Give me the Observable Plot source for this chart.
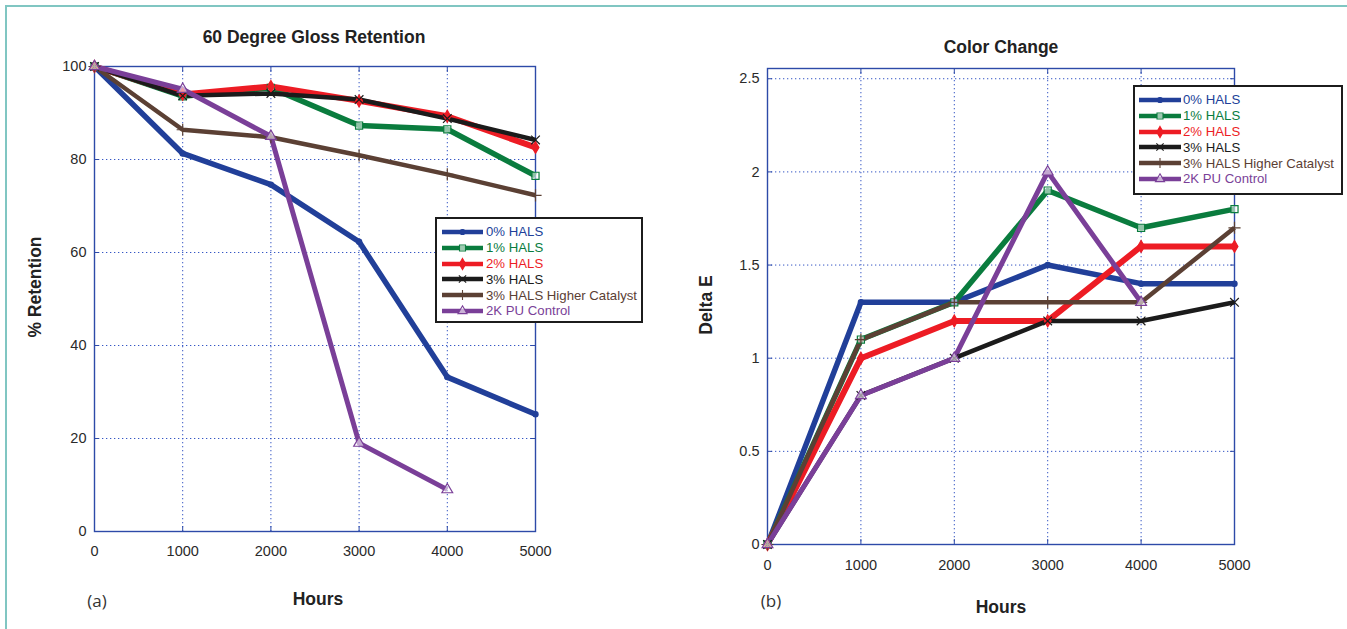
<!DOCTYPE html>
<html><head><meta charset="utf-8">
<script src="https://cdn.jsdelivr.net/npm/d3@7"></script>
<script src="https://cdn.jsdelivr.net/npm/@observablehq/plot@0.6"></script>
<style>
body{margin:0;background:#fff;}
#fig{position:relative;width:1347px;height:629px;overflow:hidden;font-family:"Liberation Sans",Arial,sans-serif;background:#fff;}
#border{position:absolute;left:5px;top:5px;width:1400px;height:700px;border-left:2px solid #80c6c2;border-top:2px solid #80c6c2;box-sizing:border-box;}
.abs{position:absolute;white-space:nowrap;line-height:1;}
.plot{position:absolute;top:0;}
.legend{position:absolute;border:2px solid #1c1c1c;background:#fff;box-sizing:border-box;}
.row{position:absolute;display:flex;align-items:center;font-size:13.2px;line-height:1;white-space:nowrap;}
</style></head>
<body>
<div id="fig"><div id="border"></div></div>
<script>
// ---------- data ----------
const hours = [0, 1000, 2000, 3000, 4000, 5000];
const seriesNames = ["0% HALS", "1% HALS", "2% HALS", "3% HALS", "3% HALS Higher Catalyst", "2K PU Control"];
const seriesColors = ["#213f99", "#0a7c3e", "#ed1c24", "#1b1b1b", "#5b4034", "#7a3f98"];
const seriesSymbols = ["circle", "square", "diamond", "times", "plus", "triangle"];

// 60 Degree Gloss Retention (%)
const gloss0 = [100, 81.3, 74.6, 62.3, 33.2, 25.2];
const gloss1 = [100, 93.6, 95.4, 87.3, 86.5, 76.5];
const gloss2 = [100, 94.0, 95.7, 92.6, 89.3, 82.6];
const gloss3 = [100, 93.7, 94.2, 92.9, 88.8, 84.2];
const gloss3c = [100, 86.4, 84.8, 80.9, 76.8, 72.3];
const glossPU = [100, 95.1, 85.0, 19.0, 9.0, null];
const glossTicks = [0, 20, 40, 60, 80, 100];

// Color Change (Delta E)
const color0 = [0, 1.3, 1.3, 1.5, 1.4, 1.4];
const color1 = [0, 1.1, 1.3, 1.9, 1.7, 1.8];
const color2 = [0, 1.0, 1.2, 1.2, 1.6, 1.6];
const color3 = [0, 0.8, 1.0, 1.2, 1.2, 1.3];
const color3c = [0, 1.1, 1.3, 1.3, 1.3, 1.7];
const colorPU = [0, 0.8, 1.0, 2.0, 1.3, null];
const deltaTicks = [0, 0.5, 1, 1.5, 2, 2.5];

// ---------- styles ----------
const gridColor = "#3556c4";
const frameColor = "#2d4aa8";
const lineWidths = [5.5, 5.5, 6, 4.5, 4.5, 5];

function tidy(valueArrays) {
  const rows = [];
  valueArrays.forEach((vals, si) => {
    vals.forEach((v, i) => {
      if (v != null) rows.push({series: seriesNames[si], hours: hours[i], value: v});
    });
  });
  return rows;
}

function makeChart({width, height, marginLeft, marginRight, marginTop, marginBottom, yDomain, yTicks, rows, xPad}) {
  const marks = [
    Plot.gridX(hours, {stroke: gridColor, strokeOpacity: 1, strokeWidth: 1, strokeDasharray: "1.3,2.7"}),
    Plot.gridY(yTicks, {stroke: gridColor, strokeOpacity: 1, strokeWidth: 1, strokeDasharray: "1.3,2.7"}),
    Plot.axisX({ticks: hours, anchor: "bottom", tickSize: 0, tickPadding: xPad, tickFormat: d => String(d), fontSize: 14.5, fill: "#2a2a2a", label: null}),
    Plot.axisY({ticks: yTicks, anchor: "left", tickSize: 0, tickPadding: 8, tickFormat: d => String(d), fontSize: 14.5, fill: "#2a2a2a", label: null}),
    Plot.axisX({ticks: hours, anchor: "bottom", tickSize: -5, tickFormat: () => "", stroke: frameColor, label: null}),
    Plot.axisX({ticks: hours, anchor: "top", tickSize: -5, tickFormat: () => "", stroke: frameColor, label: null}),
    Plot.axisY({ticks: yTicks, anchor: "left", tickSize: -5, tickFormat: () => "", stroke: frameColor, label: null}),
    Plot.axisY({ticks: yTicks, anchor: "right", tickSize: -5, tickFormat: () => "", stroke: frameColor, label: null}),
    Plot.frame({stroke: frameColor, strokeWidth: 1.4})
  ];
  seriesNames.forEach((name, si) => {
    const d = rows.filter(r => r.series === name);
    marks.push(Plot.line(d, {x: "hours", y: "value", stroke: seriesColors[si], strokeWidth: lineWidths[si], strokeLinejoin: "round", strokeLinecap: "butt"}));
  });
  seriesNames.forEach((name, si) => {
    const d = rows.filter(r => r.series === name);
    const sym = seriesSymbols[si];
    const filled = sym === "circle" || sym === "diamond";
    marks.push(Plot.dot(d, {
      x: "hours", y: "value", symbol: sym,
      r: sym === "circle" ? 2.6 : sym === "diamond" ? 3.6 : 4,
      fill: filled ? seriesColors[si] : (sym === "square" || sym === "triangle" ? "#ffffff" : "none"),
      fillOpacity: filled ? 1 : 0.55,
      stroke: seriesColors[si], strokeWidth: 1.2
    }));
  });
  return Plot.plot({
    width, height, marginLeft, marginRight, marginTop, marginBottom,
    x: {domain: [0, 5000], label: null},
    y: {domain: yDomain, label: null},
    style: {background: "transparent", fontFamily: "'Liberation Sans', Arial, sans-serif", fontSize: "14.5px"},
    marks
  });
}

const fig = document.getElementById("fig");

const left = makeChart({width: 680, height: 629, marginLeft: 94, marginRight: 145, marginTop: 66, marginBottom: 98,
  yDomain: [0, 100], yTicks: glossTicks, rows: tidy([gloss0, gloss1, gloss2, gloss3, gloss3c, glossPU]), xPad: 14});
left.classList.add("plot"); left.style.left = "0px";
fig.appendChild(left);

const right = makeChart({width: 667, height: 629, marginLeft: 87, marginRight: 113, marginTop: 68, marginBottom: 85,
  yDomain: [0, 2.555], yTicks: deltaTicks, rows: tidy([color0, color1, color2, color3, color3c, colorPU]), xPad: 15});
right.classList.add("plot"); right.style.left = "680px";
fig.appendChild(right);

// ---------- text ----------
function text(str, x, y, css, rotate) {
  const el = document.createElement("div");
  el.className = "abs";
  el.textContent = str;
  el.style.left = x + "px";
  el.style.top = y + "px";
  el.style.transform = "translate(-50%,-50%)" + (rotate ? " rotate(-90deg)" : "");
  Object.assign(el.style, css);
  fig.appendChild(el);
}
const titleCss = {fontWeight: "bold", fontSize: "17.5px", color: "#222"};
const labCss = {fontWeight: "bold", fontSize: "17.5px", color: "#222"};
text("60 Degree Gloss Retention", 314, 38, titleCss);
text("Color Change", 1001, 48, titleCss);
text("Hours", 318, 600, labCss);
text("Hours", 1001, 608, labCss);
text("% Retention", 36, 287, labCss, true);
text("Delta E", 707, 305, labCss, true);
text("(a)", 97, 600, {fontFamily: "'Open Sans', sans-serif", fontSize: "17px", color: "#333"});
text("(b)", 771, 600, {fontFamily: "'Open Sans', sans-serif", fontSize: "17px", color: "#333"});

// ---------- legends ----------
function legend(x, y, w, h, rowTop, swX, swW, textX) {
  const box = document.createElement("div");
  box.className = "legend";
  Object.assign(box.style, {left: x + "px", top: y + "px", width: w + "px", height: h + "px"});
  fig.appendChild(box);
  const symMap = {circle: d3.symbolCircle, square: d3.symbolSquare, diamond: d3.symbolDiamond, times: d3.symbolTimes, plus: d3.symbolPlus, triangle: d3.symbolTriangle};
  seriesNames.forEach((name, i) => {
    const row = document.createElement("div");
    row.className = "row";
    const cy = rowTop + i * 15.8;
    Object.assign(row.style, {left: (swX - x - 2) + "px", top: (cy - y - 2 - 7) + "px", height: "14px"});
    const svg = d3.create("svg").attr("width", swW).attr("height", 14).style("display", "block");
    svg.append("line").attr("x1", 0).attr("x2", swW).attr("y1", 7).attr("y2", 7)
      .attr("stroke", seriesColors[i]).attr("stroke-width", 4.5);
    const sym = seriesSymbols[i];
    const filled = sym === "circle" || sym === "diamond";
    svg.append("path").attr("transform", `translate(${swW / 2},7)`)
      .attr("d", d3.symbol(symMap[sym] || d3.symbolCross, sym === "circle" ? 20 : 36)())
      .attr("fill", filled ? seriesColors[i] : "#fff").attr("fill-opacity", filled ? 1 : 0.6)
      .attr("stroke", seriesColors[i]).attr("stroke-width", 1.1);
    row.appendChild(svg.node());
    const span = document.createElement("span");
    span.textContent = name;
    span.style.color = seriesColors[i];
    span.style.marginLeft = (textX - swX - swW) + "px";
    row.appendChild(span);
    box.appendChild(row);
  });
}
legend(435, 217, 208, 106, 232, 442, 41, 486);
legend(1133, 85, 210, 110, 100, 1139, 42, 1183);
</script>
</body></html>
